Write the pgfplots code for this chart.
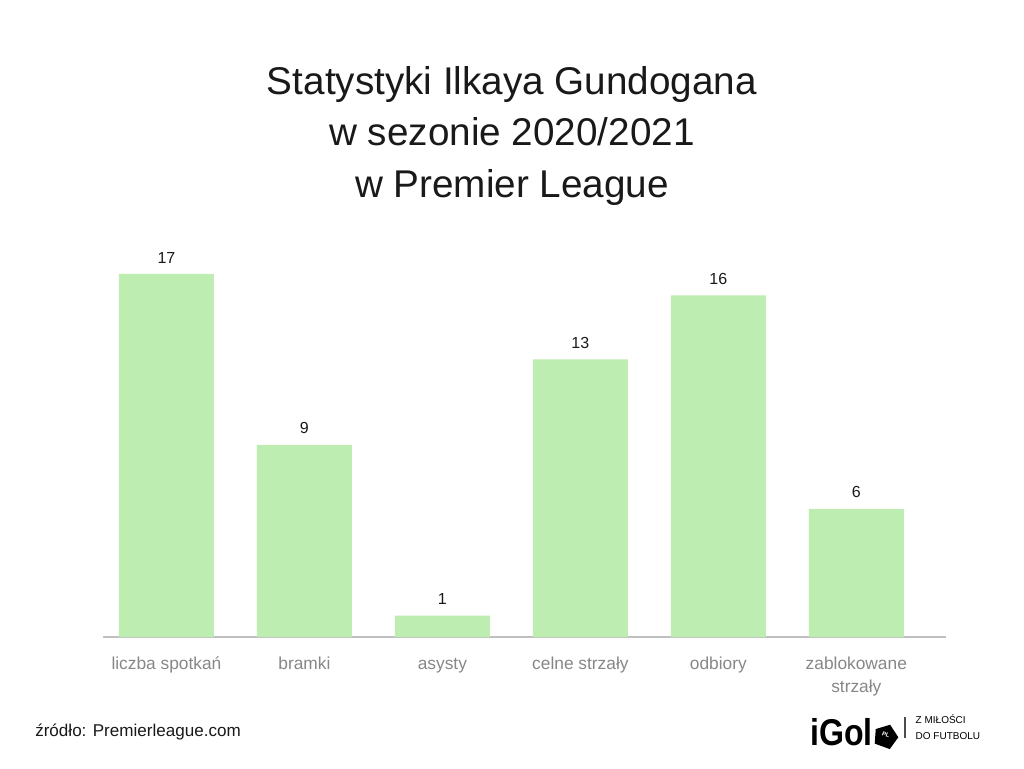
\documentclass[border=0pt]{standalone}
\usepackage{pgfplots}
\pgfplotsset{compat=1.18}
\usepackage{fontspec}
\setmainfont{Liberation Sans}
\definecolor{barg}{RGB}{189,237,176}
\definecolor{axg}{RGB}{192,192,192}
\definecolor{lblg}{RGB}{135,135,135}
\definecolor{txt}{RGB}{25,25,25}
\begin{document}
\begin{tikzpicture}[x=0.75pt,y=0.75pt]
\path[use as bounding box] (0,0) rectangle (1024,768);
% title
\node[font=\fontsize{29pt}{38.5pt}\selectfont, text=txt, align=center] at (512,632) {Statystyki Ilkaya Gundogana\\w sezonie 2020/2021\\w Premier League};
\begin{axis}[
  at={(77.25pt,98.25pt)}, anchor=south west,
  scale only axis, width=632.25pt, height=272.25pt,
  xmin=-0.46, xmax=5.65, ymin=0, ymax=17,
  axis x line*=bottom, axis y line=none,
  x axis line style={draw=axg, line width=1.5pt, -},
  ytick=\empty, xtick=data,
  xtick style={draw=none},
  /pgf/number format/assume math mode=true,
  xticklabels={\strut liczba spotkań, \strut bramki, \strut asysty, \strut celne strzały, \strut odbiory, {\strut zablokowane\\strzały}},
  xticklabel style={font=\fontsize{13pt}{17pt}\selectfont, text=lblg, align=center, yshift=-5pt},
  clip=false,
  ybar, bar width=71.25pt,
  nodes near coords,
  every node near coord/.append style={font=\fontsize{12pt}{14pt}\selectfont, text=txt, inner sep=0pt, yshift=8pt},
]
\addplot[fill=barg, draw=none] coordinates {(0,17) (1,9) (2,1) (3,13) (4,16) (5,6)};
\end{axis}
% source
\node[font=\fontsize{12.8pt}{14pt}\selectfont, text=txt, anchor=west, inner sep=0pt] at (35,36) {źródło: Premierleague.com};
% logo
\node[font=\fontsize{28pt}{30pt}\selectfont\bfseries, text=black, anchor=base west, inner sep=0pt, xscale=0.86] at (810,23) {iGol};
\fill[black, rotate around={-20:(886,32)}] (878,21) -- (894,21) -- (898,35) -- (886,44) -- (874,35) -- cycle;
\node[font=\fontsize{4.5pt}{5pt}\selectfont\bfseries, text=white, rotate=-20] at (886,33) {PL};
\draw[black!70, line width=0.8pt] (905,30) -- (905,51);
\node[font=\fontsize{7.5pt}{11.5pt}\selectfont, text=black, anchor=west, align=left] at (911,41) {Z MIŁOŚCI\\DO FUTBOLU};
\end{tikzpicture}
\end{document}
